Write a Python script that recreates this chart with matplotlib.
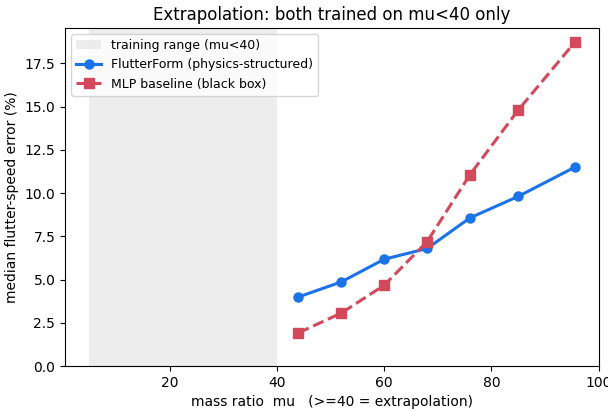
import numpy as np
import matplotlib
matplotlib.use("Agg")
import matplotlib.pyplot as plt

mu = [44, 52, 60, 68, 76, 85, 95.5]
err_flutterform = [4.0, 4.87, 6.18, 6.8, 8.57, 9.81, 11.49]
err_mlp = [1.93, 3.07, 4.68, 7.2, 11.07, 14.8, 18.7]
train_lo, train_hi = 5, 40

fig, ax = plt.subplots(figsize=(6.08, 4.11), dpi=100)
ax.axvspan(train_lo, train_hi, color="#e6e6e6", alpha=0.7, lw=0,
           label="training range (mu<40)")
ax.plot(mu, err_flutterform, "-o", color="#1a73e8", lw=2.2, ms=6.5,
        label="FlutterForm (physics-structured)")
ax.plot(mu, err_mlp, "--s", color="#d1495b", lw=2.2, ms=6.5,
        label="MLP baseline (black box)")
ax.set_ylim(bottom=0)
ax.set_xlabel("mass ratio  mu   (>=40 = extrapolation)")
ax.set_ylabel("median flutter-speed error (%)")
ax.set_title("Extrapolation: both trained on mu<40 only", fontsize=12)
ax.legend(loc="upper left", fontsize=9)

fig.subplots_adjust(left=0.107, right=0.985, top=0.932, bottom=0.109)
fig.savefig("out.png")
